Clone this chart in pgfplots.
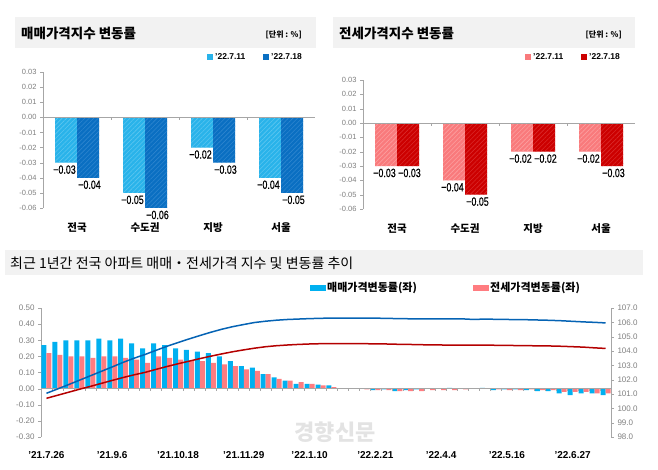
\documentclass[border=0pt]{standalone}
\usepackage{pgfplots}
\pgfplotsset{compat=1.18}
\usepackage{pgfplotstable}
\usepackage{fontspec}
\setmainfont{Liberation Sans}
\newfontfamily\kr{Noto Sans CJK KR}
\newfontfamily\narrow{Liberation Sans}[FakeStretch=0.74,FakeBold=0.3]
\usetikzlibrary{patterns.meta}
\definecolor{lb}{HTML}{29B3EA}
\definecolor{lbh}{HTML}{5CC6F0}
\definecolor{db}{HTML}{0A6FC2}
\definecolor{dbh}{HTML}{2E86CF}
\definecolor{lr}{HTML}{F97A7C}
\definecolor{lrh}{HTML}{FC9FA0}
\definecolor{dr}{HTML}{CC0000}
\definecolor{drh}{HTML}{DA2A2A}
\definecolor{bb}{HTML}{00B0F0}
\definecolor{rb}{HTML}{FF7C80}
\definecolor{bl}{HTML}{0563B4}
\definecolor{rl}{HTML}{B40000}
\definecolor{tbar}{HTML}{F2F2F2}
\definecolor{tk}{HTML}{7F7F7F}
\definecolor{ax}{HTML}{A6A6A6}

\pgfplotstableread{
k s j si ji
0 0.27 0.22 101.05 100.70
1 0.29 0.21 101.35 100.91
2 0.30 0.20 101.65 101.12
3 0.30 0.20 101.96 101.33
4 0.30 0.19 102.27 101.53
5 0.31 0.20 102.58 101.74
6 0.30 0.20 102.89 101.95
7 0.31 0.19 103.21 102.15
8 0.28 0.18 103.50 102.34
9 0.25 0.16 103.76 102.51
10 0.28 0.20 104.05 102.72
11 0.27 0.19 104.33 102.92
12 0.25 0.18 104.59 103.11
13 0.24 0.17 104.84 103.29
14 0.23 0.17 105.08 103.47
15 0.22 0.16 105.31 103.64
16 0.20 0.15 105.52 103.80
17 0.17 0.14 105.70 103.95
18 0.14 0.12 105.85 104.08
19 0.13 0.11 105.99 104.20
20 0.09 0.09 106.08 104.30
21 0.07 0.06 106.15 104.37
22 0.05 0.05 106.20 104.42
23 0.03 0.04 106.23 104.46
24 0.03 0.03 106.26 104.49
25 0.025 0.02 106.28 104.51
26 0.02 0.01 106.30 104.52
27 0.00 0.00 106.30 104.52
28 0.00 0.00 106.30 104.52
29 0.00 -0.005 106.30 104.51
30 -0.01 -0.01 106.29 104.50
31 -0.005 -0.01 106.28 104.49
32 -0.015 -0.015 106.26 104.47
33 -0.01 -0.015 106.25 104.46
34 -0.005 -0.015 106.24 104.44
35 0.00 -0.01 106.24 104.43
36 0.00 -0.01 106.24 104.42
37 0.005 -0.01 106.25 104.41
38 0.00 -0.005 106.24 104.41
39 0.00 0.00 106.20 104.41
40 0.005 0.00 106.23 104.41
41 -0.01 -0.005 106.21 104.40
42 -0.005 -0.01 106.20 104.39
43 -0.005 -0.01 106.19 104.38
44 -0.01 -0.005 106.18 104.37
45 -0.015 -0.01 106.16 104.36
46 -0.015 -0.01 106.14 104.35
47 -0.03 -0.02 106.11 104.33
48 -0.04 -0.02 106.07 104.30
49 -0.03 -0.02 106.03 104.27
50 -0.03 -0.03 106.00 104.22
51 -0.04 -0.03 105.96 104.18
}\weekly

\pgfplotsset{
  topbar/.style={
    scale only axis, width=272pt, height=136pt, anchor=south west,
    xmin=-0.5, xmax=3.5, ymin=-0.06, ymax=0.03,
    ybar=0pt, bar width=22pt,
    axis y line*=left, axis x line*=bottom,
    x axis line style={draw=none}, y axis line style={draw=ax},
    xtick={0,1,2,3}, xticklabels={전국,수도권,지방,서울},
    xticklabel style={font=\kr\bfseries\fontsize{10.5}{12}\selectfont, yshift=-8pt},
    xtick style={draw=none},
    scaled y ticks=false,
    ytick={-0.06,-0.05,-0.04,-0.03,-0.02,-0.01,0,0.01,0.02,0.03},
    yticklabel style={font=\fontsize{7.5}{9}\selectfont, text=tk,
      /pgf/number format/fixed, /pgf/number format/fixed zerofill,
      /pgf/number format/precision=2, /pgf/number format/assume math mode=true},
    ytick style={draw=ax}, tick align=outside, major tick length=3pt,
    clip=false,
    nodes near coords, point meta=explicit symbolic,
    every node near coord/.append style={font=\narrow\fontsize{12}{13}\selectfont, text=black, anchor=north, inner sep=2.5pt},
  },
  lefts/.style={every node near coord/.append style={xshift=-1.5pt}},
  rights/.style={every node near coord/.append style={xshift=1.5pt}},
}

\begin{document}
\begin{tikzpicture}
\path[use as bounding box] (0pt,0pt) rectangle (658pt,-470pt);
% title bars
\fill[tbar] (15pt,-17pt) rectangle (316pt,-48pt);
\fill[tbar] (333pt,-17pt) rectangle (635pt,-48pt);
\fill[tbar] (5pt,-250pt) rectangle (643pt,-275pt);
\node[anchor=west, inner sep=0pt, font=\kr\bfseries\fontsize{13.5}{15}\selectfont] at (21pt,-33pt) {매매가격지수 변동률};
\node[anchor=east, inner sep=0pt, font=\kr\bfseries\fontsize{8}{9}\selectfont] at (302pt,-35pt) {[단위 : \%]};
\node[anchor=west, inner sep=0pt, font=\kr\bfseries\fontsize{13.5}{15}\selectfont] at (339pt,-33pt) {전세가격지수 변동률};
\node[anchor=east, inner sep=0pt, font=\kr\bfseries\fontsize{8}{9}\selectfont] at (622pt,-35pt) {[단위 : \%]};
\node[anchor=west, inner sep=0pt, font=\kr\fontsize{14}{15}\selectfont] at (10pt,-263pt) {최근 1년간 전국 아파트 매매・전세가격 지수 및 변동률 추이};
% top legends
\fill[lb] (207pt,-54pt) rectangle (213pt,-60pt);
\node[anchor=west, inner sep=0pt, font=\bfseries\fontsize{8.5}{9}\selectfont] at (215pt,-57pt) {’22.7.11};
\fill[db] (263pt,-54pt) rectangle (269pt,-60pt);
\node[anchor=west, inner sep=0pt, font=\bfseries\fontsize{8.5}{9}\selectfont] at (271pt,-57pt) {’22.7.18};
\fill[lr] (525pt,-54pt) rectangle (531pt,-60pt);
\node[anchor=west, inner sep=0pt, font=\bfseries\fontsize{8.5}{9}\selectfont] at (533pt,-57pt) {’22.7.11};
\fill[dr] (581pt,-54pt) rectangle (587pt,-60pt);
\node[anchor=west, inner sep=0pt, font=\bfseries\fontsize{8.5}{9}\selectfont] at (589pt,-57pt) {’22.7.18};
% bottom legend
\fill[bb] (310pt,-285pt) rectangle (326pt,-291pt);
\node[anchor=west, inner sep=0pt, font=\kr\bfseries\fontsize{11}{12}\selectfont] at (327pt,-288pt) {매매가격변동률(좌)};
\fill[rb] (473pt,-285pt) rectangle (489pt,-291pt);
\node[anchor=west, inner sep=0pt, font=\kr\bfseries\fontsize{11}{12}\selectfont] at (490pt,-288pt) {전세가격변동률(좌)};

% top-left chart
\begin{axis}[topbar, at={(43pt,-208pt)}]
\addplot[lefts, fill=lb, draw=none, postaction={pattern={Lines[angle=45,distance=3.2pt,line width=0.6pt]}, pattern color=lbh}]
  coordinates {(0,-0.03) [−0.03] (1,-0.05) [−0.05] (2,-0.02) [−0.02] (3,-0.04) [−0.04]};
\addplot[rights, fill=db, draw=none, postaction={pattern={Lines[angle=45,distance=3.2pt,line width=0.6pt]}, pattern color=dbh}]
  coordinates {(0,-0.04) [−0.04] (1,-0.06) [−0.06] (2,-0.03) [−0.03] (3,-0.05) [−0.05]};
\draw[ax] (axis cs:-0.5,0) -- (axis cs:3.5,0);
\draw[ax] (axis cs:0.5,0) -- ++(0pt,-3pt);
\draw[ax] (axis cs:1.5,0) -- ++(0pt,-3pt);
\draw[ax] (axis cs:2.5,0) -- ++(0pt,-3pt);
\end{axis}

% top-right chart
\begin{axis}[topbar, at={(363pt,-209pt)}, height=129pt]
\addplot[lefts, fill=lr, draw=none, postaction={pattern={Lines[angle=45,distance=3.2pt,line width=0.6pt]}, pattern color=lrh}]
  coordinates {(0,-0.03) [−0.03] (1,-0.04) [−0.04] (2,-0.02) [−0.02] (3,-0.02) [−0.02]};
\addplot[rights, fill=dr, draw=none, postaction={pattern={Lines[angle=45,distance=3.2pt,line width=0.6pt]}, pattern color=drh}]
  coordinates {(0,-0.03) [−0.03] (1,-0.05) [−0.05] (2,-0.02) [−0.02] (3,-0.03) [−0.03]};
\draw[ax] (axis cs:-0.5,0) -- (axis cs:3.5,0);
\draw[ax] (axis cs:0.5,0) -- ++(0pt,-3pt);
\draw[ax] (axis cs:1.5,0) -- ++(0pt,-3pt);
\draw[ax] (axis cs:2.5,0) -- ++(0pt,-3pt);
\end{axis}

% watermark
\node[font=\kr\bfseries\fontsize{22}{24}\selectfont, text=gray!22] at (335pt,-432pt) {경향신문};

% bottom chart: bars
\begin{axis}[scale only axis, width=570pt, height=129pt, anchor=south west, at={(41pt,-437pt)},
  xmin=-0.5, xmax=51.5, ymin=-0.3, ymax=0.5,
  ybar=0pt, bar width=5pt,
  axis y line*=left, axis x line*=bottom,
  x axis line style={draw=none}, y axis line style={draw=ax},
  xtick={0,6,12,18,24,30,36,42,48},
  xticklabels={’21.7.26,’21.9.6,’21.10.18,’21.11.29,’22.1.10,’22.2.21,’22.4.4,’22.5.16,’22.6.27},
  xticklabel style={font=\bfseries\fontsize{10}{11}\selectfont, yshift=-8pt},
  xtick style={draw=none},
  scaled y ticks=false,
  ytick={-0.3,-0.2,-0.1,0,0.1,0.2,0.3,0.4,0.5},
  yticklabel style={font=\fontsize{8}{9}\selectfont, text=tk,
      /pgf/number format/fixed, /pgf/number format/fixed zerofill,
      /pgf/number format/precision=2, /pgf/number format/assume math mode=true},
  ytick style={draw=ax}, tick align=outside, major tick length=3pt,
  clip=false]
\addplot[fill=bb, draw=none] table[x=k,y=s]{\weekly};
\addplot[fill=rb, draw=none] table[x=k,y=j]{\weekly};
\draw[ax] (axis cs:-0.5,0) -- (axis cs:51.5,0);
\pgfplotsinvokeforeach{0,...,50}{\draw[ax] (axis cs:#1.5,0) -- ++(0pt,-2.5pt);}
\end{axis}

% bottom chart: index lines
\begin{axis}[scale only axis, width=570pt, height=129pt, anchor=south west, at={(41pt,-437pt)},
  xmin=-0.5, xmax=51.5, ymin=98, ymax=107,
  axis y line*=right, axis x line=none,
  y axis line style={draw=ax},
  ytick={98,99,100,101,102,103,104,105,106,107},
  yticklabel style={font=\fontsize{8}{9}\selectfont, text=tk,
      /pgf/number format/fixed, /pgf/number format/fixed zerofill,
      /pgf/number format/precision=1, /pgf/number format/assume math mode=true},
  ytick style={draw=ax}, tick align=outside, major tick length=3pt,
  clip=false]
\addplot[bl, line width=1.5pt, no marks] table[x=k,y=si]{\weekly};
\addplot[rl, line width=1.5pt, no marks] table[x=k,y=ji]{\weekly};
\end{axis}
\end{tikzpicture}
\end{document}
